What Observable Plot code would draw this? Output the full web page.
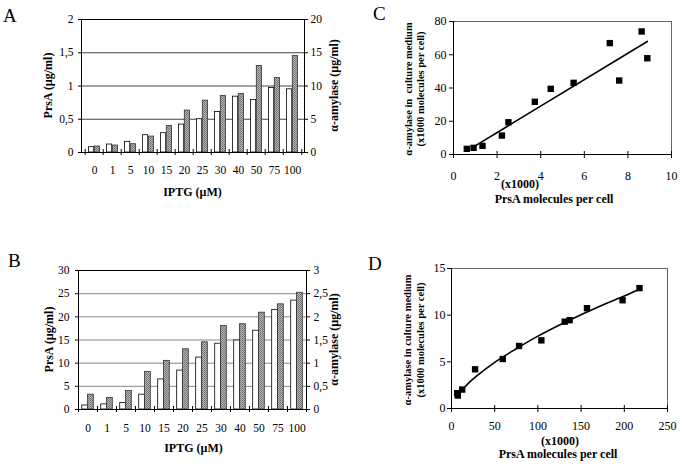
<!DOCTYPE html>
<html><head><meta charset="utf-8">
<script src="https://cdn.jsdelivr.net/npm/d3@7"></script>
<script src="https://cdn.jsdelivr.net/npm/@observablehq/plot@0.6"></script>
<style>
html,body{margin:0;padding:0;background:#fff}
#fig{position:relative;width:682px;height:467px;overflow:hidden;background:#fff}
#fig .panel{position:absolute}
#fig svg{overflow:visible}
#overlay{position:absolute;left:0;top:0;pointer-events:none}
#overlay text{font-family:'Liberation Serif','Times New Roman',serif;fill:#000;white-space:pre}
</style></head><body>
<svg width="0" height="0" style="position:absolute">
  <defs>
    <pattern id="stipple" width="2" height="2" patternUnits="userSpaceOnUse">
      <rect width="2" height="2" fill="#b4b4b4"/>
      <rect width="1" height="1" fill="#707070"/>
      <rect x="1" y="1" width="1" height="1" fill="#7e7e7e"/>
    </pattern>
  </defs>
</svg>
<div id="fig"></div>
<script>
// ---- data ----
const iptg = ["0","1","5","10","15","20","25","30","40","50","75","100"];
// Panel A
const prsaA = [0.08,0.12,0.16,0.26,0.29,0.42,0.50,0.61,0.84,0.79,0.97,0.95];
const amyA  = [0.9,1.05,1.25,2.4,4.0,6.3,7.8,8.5,8.8,13.0,11.2,14.5];
const leftTicksA  = [0,0.5,1,1.5,2];
const rightTicksA = [0,5,10,15,20];
// Panel B
const prsaB = [0.86,1.1,1.4,3.2,6.5,8.4,11.2,14.2,14.9,17.0,21.5,23.5];
const amyB  = [0.32,0.25,0.40,0.81,1.05,1.30,1.45,1.80,1.84,2.09,2.27,2.52];
const leftTicksB  = [0,5,10,15,20,25,30];
const rightTicksB = [0,0.5,1,1.5,2,2.5,3];
// Panel C
const prsaC = [0.61,0.92,1.33,2.22,2.52,3.73,4.46,5.51,7.17,7.6,8.63,8.89];
const amyC  = [3.4,4.0,5.2,11.4,19.4,31.7,39.5,43.1,67,44.5,74,57.9];
const fitCX = [0.88,8.89];
const fitCY = [4.3,68];
const xTicksC = [0,2,4,6,8,10];
const yTicksC = [0,20,40,60,80];
// Panel D
const prsaD = [6.6,7.3,12.4,27.3,59.3,78.2,104,131,136.7,156.8,198,217.6];
const amyD  = [1.64,1.39,2.03,4.2,5.3,6.7,7.3,9.3,9.46,10.75,11.6,12.9];
const fitDX = [10,20,30,50,75,100,125,150,175,200,218];
const fitDY = [1.75,2.75,3.55,4.95,6.4,7.75,8.95,10.05,11.1,12.05,12.8];
const xTicksD = [0,50,100,150,200,250];
const yTicksD = [0,5,10,15];

const fmt = v => String(v).replace(".", ",");
const FONT = "'Liberation Serif','Times New Roman',serif";
const fig = document.getElementById("fig");

function place(svg, left, top) {
  const d = document.createElement("div");
  d.className = "panel";
  d.style.left = left + "px"; d.style.top = top + "px";
  d.appendChild(svg); fig.appendChild(d);
}

function barPanel(o) {
  const ratio = o.rightTicks[o.rightTicks.length-1] / o.leftTicks[o.leftTicks.length-1];
  const rows = iptg.map((c,i)=>({c, prsa:o.prsa[i], amy:o.amy[i]/ratio}));
  const bw = (o.width - o.ml - o.mr) / iptg.length;
  const outer = (bw - 2*o.barW) / 2;
  return Plot.plot({
    width:o.width, height:o.height,
    marginLeft:o.ml, marginRight:o.mr, marginTop:o.mt, marginBottom:o.mb,
    style:{fontFamily:FONT, fontSize:"11.5px", color:"black", background:"transparent", overflow:"visible"},
    x:{type:"band", domain:iptg, padding:0},
    y:{domain:[0, o.leftTicks[o.leftTicks.length-1]]},
    marks:[
      Plot.ruleY(o.leftTicks.slice(1,-1), {stroke:o.grid, strokeWidth:1}),
      Plot.barY(rows, {x:"c", y:"prsa", fill:"white", stroke:"black", strokeWidth:0.8,
        insetLeft:outer, insetRight:bw-outer-o.barW}),
      Plot.barY(rows, {x:"c", y:"amy", fill:"url(#stipple)", stroke:"#333", strokeWidth:0.8,
        insetLeft:outer+o.barW, insetRight:outer}),
      Plot.frame({stroke:"black"}),
      Plot.ruleX(iptg, {x:d=>d, y1:0, y2:0, dx:-bw/2, insetTop:-3, insetBottom:-3, stroke:"black"}),
      Plot.ruleX([iptg[iptg.length-1]], {x:d=>d, y1:0, y2:0, dx:bw/2, insetTop:-3, insetBottom:-3, stroke:"black"}),
      Plot.axisX({tickSize:0, tickPadding:o.xPad, label:null}),
      Plot.axisY({anchor:"left", ticks:o.leftTicks, tickFormat:fmt, tickSize:3, tickPadding:o.lPad, label:null}),
      Plot.axisY({anchor:"right", ticks:o.rightTicks.map(v=>v/ratio),
        tickFormat:d=>fmt(+(d*ratio).toFixed(3)), tickSize:3, tickPadding:o.rPad, label:null})
    ]
  });
}

function scatterPanel(o) {
  const pts = o.xs.map((x,i)=>({x, y:o.ys[i]}));
  const fit = o.fx.map((x,i)=>({x, y:o.fy[i]}));
  return Plot.plot({
    width:o.width, height:o.height,
    marginLeft:o.ml, marginRight:o.mr, marginTop:o.mt, marginBottom:o.mb,
    style:{fontFamily:FONT, fontSize:"12px", color:"black", background:"transparent", overflow:"visible"},
    x:{domain:[o.xTicks[0], o.xTicks[o.xTicks.length-1]]},
    y:{domain:[o.yTicks[0], o.yTicks[o.yTicks.length-1]]},
    marks:[
      Plot.frame({stroke:"#666"}),
      Plot.ruleX([0], {stroke:"black"}),
      Plot.ruleY([0], {stroke:"black"}),
      Plot.line(fit, {x:"x", y:"y", stroke:"black", strokeWidth:1.6, curve:o.curve}),
      Plot.dot(pts, {x:"x", y:"y", symbol:"square", r:3.6, fill:"black", stroke:"none"}),
      Plot.ruleX(o.xTicks, {x:d=>d, y1:0, y2:0, insetTop:-3, insetBottom:-4, stroke:"black"}),
      Plot.axisX({ticks:o.xTicks, tickSize:0, tickPadding:o.xPad, label:null}),
      Plot.axisY({ticks:o.yTicks, tickSize:4, tickPadding:o.yPad, label:null})
    ]
  });
}

place(barPanel({prsa:prsaA, amy:amyA, leftTicks:leftTicksA, rightTicks:rightTicksA,
  width:340, height:200, ml:81, mr:36, mt:19, mb:48, barW:5.8, grid:"#444", xPad:13, lPad:5, rPad:3}), 0, 0);
place(barPanel({prsa:prsaB, amy:amyB, leftTicks:leftTicksB, rightTicks:rightTicksB,
  width:340, height:237, ml:78, mr:34, mt:40, mb:58, barW:5.8, grid:"#888", xPad:14, lPad:6, rPad:4}), 0, 230);
place(scatterPanel({xs:prsaC, ys:amyC, fx:fitCX, fy:fitCY, xTicks:xTicksC, yTicks:yTicksC, curve:"linear",
  width:342, height:230, ml:113, mr:11, mt:21, mb:76, xPad:17, yPad:3}), 340, 0);
place(scatterPanel({xs:prsaD, ys:amyD, fx:fitDX, fy:fitDY, xTicks:xTicksD, yTicks:yTicksD, curve:"catmull-rom",
  width:342, height:237, ml:111, mr:15, mt:38, mb:59, xPad:13, yPad:2}), 340, 230);

// ---- titles and panel letters ----
const NS = "http://www.w3.org/2000/svg";
const ov = document.createElementNS(NS, "svg");
ov.setAttribute("id","overlay"); ov.setAttribute("width",682); ov.setAttribute("height",467);
fig.appendChild(ov);
function txt(s, x, y, size, opts={}) {
  const t = document.createElementNS(NS, "text");
  t.textContent = s;
  t.setAttribute("font-size", size);
  if (opts.bold) t.setAttribute("font-weight","bold");
  t.setAttribute("text-anchor", opts.anchor || "middle");
  if (opts.rot) t.setAttribute("transform", `translate(${x},${y}) rotate(-90)`);
  else { t.setAttribute("x", x); t.setAttribute("y", y); }
  ov.appendChild(t);
}
txt("A", 3, 22, 19, {anchor:"start"});
txt("B", 8, 267, 19, {anchor:"start"});
txt("C", 373, 20, 19, {anchor:"start"});
txt("D", 368, 270, 19, {anchor:"start"});

txt("IPTG (µM)", 192.5, 196, 12, {bold:true});
txt("PrsA (µg/ml)", 52, 85.5, 12, {bold:true, rot:true});
txt("α-amylase (µg/ml)", 338, 85.5, 12, {bold:true, rot:true});

txt("IPTG (µM)", 193.5, 452, 12, {bold:true});
txt("PrsA (µg/ml)", 53, 339.5, 12, {bold:true, rot:true});
txt("α-amylase (µg/ml)", 338, 339.5, 12, {bold:true, rot:true});

txt("(x1000)", 520, 188, 12, {bold:true});
txt("PrsA molecules per cell", 554, 203, 12, {bold:true});
txt("α-amylase in  culture medium", 411.5, 89, 10.5, {bold:true, rot:true});
txt("(x1000 molecules per cell)", 423.5, 89, 10.5, {bold:true, rot:true});

txt("(x1000)", 560, 445, 12, {bold:true});
txt("PrsA molecules per cell", 558, 458, 12, {bold:true});
txt("α-amylase in culture medium", 410.5, 340, 10.5, {bold:true, rot:true});
txt("(x1000 molecules per cell)", 423.5, 340, 10.5, {bold:true, rot:true});
</script></body></html>
